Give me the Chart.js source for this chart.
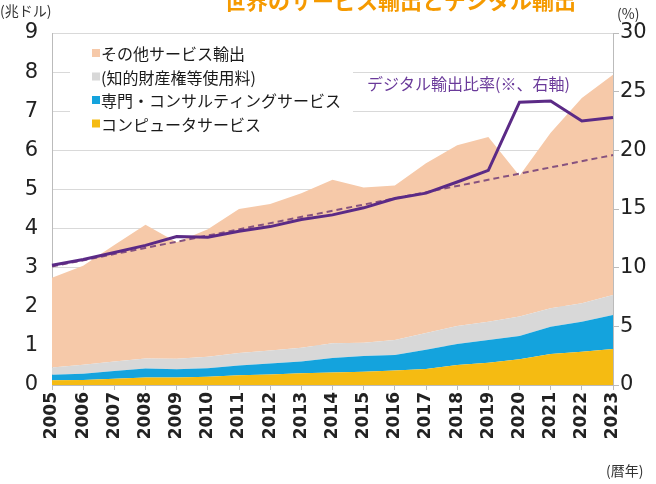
<!DOCTYPE html>
<html>
<head>
<meta charset="utf-8">
<script src="https://cdn.jsdelivr.net/npm/chart.js@4.4.1/dist/chart.umd.min.js"></script>
<style>
  html, body { margin: 0; padding: 0; background: #fff; }
  #wrap { position: relative; width: 656px; height: 484px; }
</style>
</head>
<body>
<div id="wrap"><canvas id="chart" width="656" height="484"></canvas></div>
<script>
// 暦年
const years = ['2005','2006','2007','2008','2009','2010','2011','2012','2013','2014',
               '2015','2016','2017','2018','2019','2020','2021','2022','2023'];

// 兆ドル (積み上げ)
const computer   = [0.12,0.13,0.16,0.19,0.19,0.21,0.25,0.27,0.30,0.32,0.34,0.37,0.41,0.51,0.57,0.66,0.79,0.85,0.92];
const consulting = [0.14,0.16,0.20,0.23,0.21,0.22,0.25,0.28,0.30,0.37,0.40,0.40,0.49,0.54,0.58,0.59,0.70,0.77,0.87];
const ipFees     = [0.19,0.23,0.24,0.26,0.27,0.29,0.32,0.33,0.35,0.38,0.34,0.38,0.43,0.46,0.47,0.50,0.47,0.47,0.51];
const otherSvc   = [2.29,2.53,2.98,3.42,2.98,3.26,3.68,3.75,3.95,4.18,3.97,3.95,4.34,4.62,4.72,3.60,4.49,5.25,5.63];

// デジタル輸出比率 (%, 右軸)
const digitalRatio = [10.2,10.7,11.3,11.9,12.65,12.6,13.1,13.5,14.1,14.5,15.1,15.9,16.35,17.3,18.3,24.1,24.2,22.5,22.8];
// 傾向線 (始点と終点)
const trend = [10.1,null,null,null,null,null,null,null,null,null,null,null,null,null,null,null,null,null,19.6];

const legendItems = [
  ['その他サービス輸出', '#f6c9a9'],
  ['(知的財産権等使用料)', '#d8d8d8'],
  ['専門・コンサルティングサービス', '#14a3dd'],
  ['コンピュータサービス', '#f5bb12']
];

const JP = '"Noto Sans CJK JP", "Noto Sans", sans-serif';

const decor = {
  id: 'decor',
  beforeDatasetsDraw(chart) {
    const c = chart.ctx;
    c.save();
    // legend panel hides the grid lines behind it
    c.fillStyle = '#fff';
    c.fillRect(70, 40, 283, 98);
    c.font = '16px ' + JP;
    c.textBaseline = 'middle';
    legendItems.forEach((it, i) => {
      const y = 53 + i * 23.5;
      c.fillStyle = it[1];
      c.fillRect(92, y - 4, 8, 8);
      c.fillStyle = '#1a1a1a';
      c.fillText(it[0], 101, y + 1);
    });
    c.restore();
  },
  afterDraw(chart) {
    const c = chart.ctx;
    c.save();
    c.fillStyle = '#f59a00';
    c.font = 'bold 22px ' + JP;
    c.textAlign = 'center';
    c.textBaseline = 'alphabetic';
    c.fillText('世界のサービス輸出とデジタル輸出', 400, 9);

    c.fillStyle = '#6a3a9a';
    c.font = '16px ' + JP;
    c.textAlign = 'left';
    c.textBaseline = 'middle';
    c.fillText('デジタル輸出比率(※、右軸)', 367, 84);

    c.fillStyle = '#333';
    c.font = '14px ' + JP;
    c.fillText('(兆ドル)', 0, 11);
    c.fillText('(%)', 617, 14);
    c.fillText('(暦年)', 606, 471);
    c.restore();
  }
};

const area = (label, data, color, fill) => ({
  type: 'line', label, data, yAxisID: 'y', order: 2,
  backgroundColor: color, borderWidth: 0, pointRadius: 0, tension: 0, fill
});

new Chart(document.getElementById('chart'), {
  type: 'line',
  data: {
    labels: years,
    datasets: [
      area('コンピュータサービス', computer, '#f5bb12', 'origin'),
      area('専門・コンサルティングサービス', consulting, '#14a3dd', '-1'),
      area('(知的財産権等使用料)', ipFees, '#d8d8d8', '-1'),
      area('その他サービス輸出', otherSvc, '#f6c9a9', '-1'),
      {
        label: 'デジタル輸出比率', data: digitalRatio, yAxisID: 'y1', order: 0,
        borderColor: '#5b2a86', borderWidth: 3, pointRadius: 0, tension: 0, fill: false
      },
      {
        label: 'trend', data: trend, yAxisID: 'y1', order: 1, spanGaps: true,
        borderColor: '#86527f', borderWidth: 2, borderDash: [6, 4], pointRadius: 0, fill: false
      }
    ]
  },
  options: {
    responsive: false,
    animation: false,
    layout: { padding: { top: 33, left: 0, right: 0, bottom: 0 } },
    plugins: { legend: { display: false }, tooltip: { enabled: false } },
    scales: {
      x: {
        offset: false,
        grid: { drawOnChartArea: false, tickLength: 5, color: '#bbb' },
        border: { color: '#bbb' },
        ticks: {
          minRotation: 90, maxRotation: 90, autoSkip: false, padding: 2,
          color: '#222', font: { family: 'DejaVu Sans', size: 17, weight: 'bold' }
        },
        afterFit(s) { s.height = 99; }
      },
      y: {
        stacked: true, min: 0, max: 9,
        grid: { color: '#d9d9d9', drawTicks: false },
        border: { color: '#bbb' },
        ticks: { stepSize: 1, padding: 14, color: '#222', font: { family: 'DejaVu Sans', size: 21 } },
        afterFit(s) { s.width = 52; }
      },
      y1: {
        position: 'right', min: 0, max: 30,
        grid: { drawOnChartArea: false, tickLength: 6, color: '#bbb' },
        border: { color: '#bbb' },
        ticks: { stepSize: 5, padding: 1, color: '#222', font: { family: 'DejaVu Sans', size: 21 } },
        afterFit(s) { s.width = 43; }
      }
    }
  },
  plugins: [decor]
});
</script>
</body>
</html>
